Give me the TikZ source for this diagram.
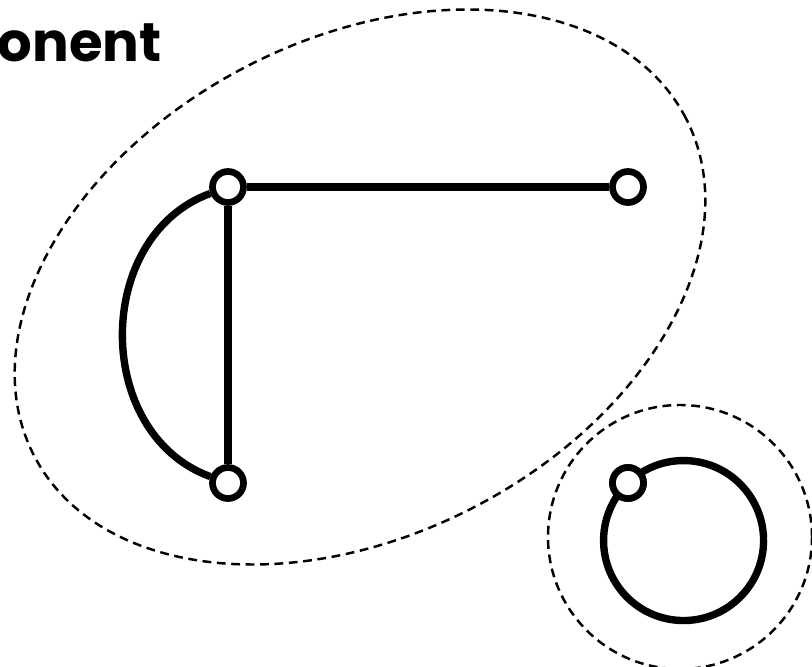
\documentclass[tikz,border=0pt]{standalone}
\usepackage{fontspec}
\newfontfamily\titlefont{Poppins}
\usetikzlibrary{positioning}

\begin{document}
\begin{tikzpicture}[
    vertex/.style={circle, draw, fill=white, line width=3.8pt, minimum size=0.62cm, inner sep=0pt},
    edge/.style={line width=4.2pt},
    blob/.style={line width=1.4pt, dash pattern=on 5pt off 3.2pt}
]
    \useasboundingbox (0,0) rectangle (16.24,-13.34);

    % components
    \draw[blob, rotate around={27.4:(7.2,-5.74)}] (7.2,-5.74) ellipse[x radius=7.34, y radius=4.96];
    \draw[blob] (13.6,-10.74) circle[radius=2.64];

    \node[anchor=base west, font=\titlefont\bfseries\fontsize{31}{36}\selectfont, inner sep=0pt] (title) at (-0.05,-1.24) {onent};

    \node[vertex] (a) at (4.56,-3.74) {};
    \node[vertex, on grid, right=8cm of a]  (b) {};
    \node[vertex, on grid, below=5.92cm of a] (c) {};
    \node[vertex, on grid, right=8cm of c]  (d) {};

    \draw[edge] (a) -- (b);
    \draw[edge] (a) -- (c);
    \draw[edge] (a) to[bend right=70, looseness=1.13] (c);
    \draw[edge] (d.center) arc[start angle=134, delta angle=360, radius=1.6];

    % vertices again, on top of the loop
    \node[vertex] at (d) {};
\end{tikzpicture}
\end{document}
